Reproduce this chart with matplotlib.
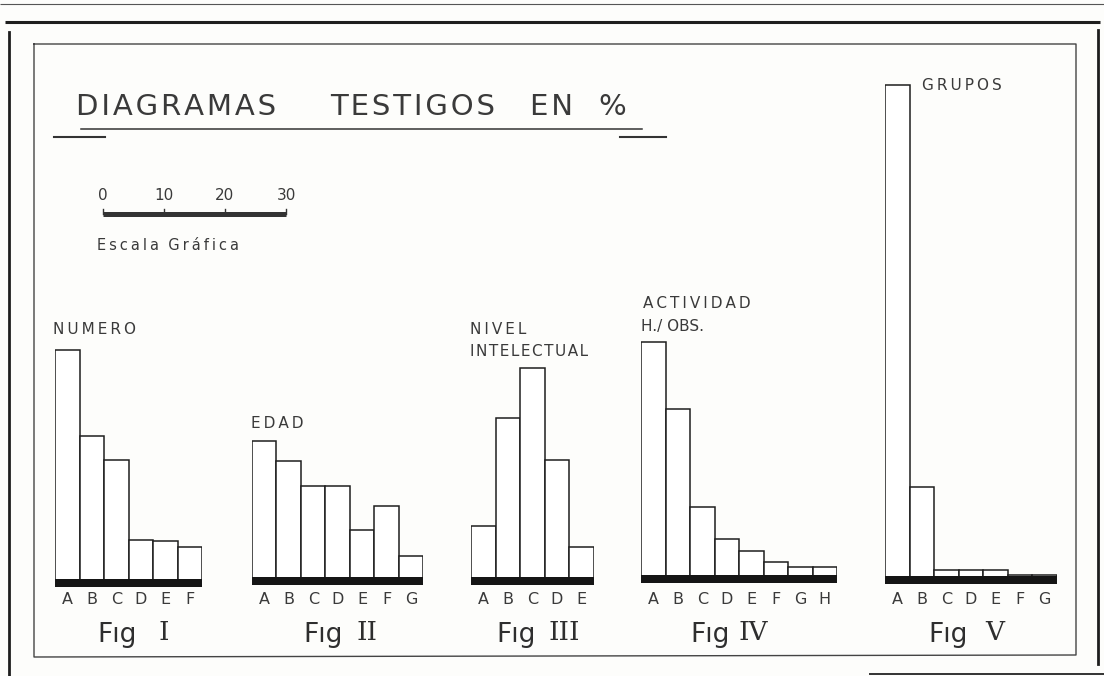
import matplotlib
matplotlib.use("Agg")
import matplotlib.pyplot as plt

# ---------------- data (values in %) ----------------
numero_letters = ["A", "B", "C", "D", "E", "F"]
numero_values = [37.7, 23.6, 19.7, 6.6, 6.4, 5.4]

edad_letters = ["A", "B", "C", "D", "E", "F", "G"]
edad_values = [22.5, 19.2, 15.1, 15.1, 7.9, 11.8, 3.6]

nivel_letters = ["A", "B", "C", "D", "E"]
nivel_values = [8.5, 26.3, 34.4, 19.3, 5.1]

actividad_letters = ["A", "B", "C", "D", "E", "F", "G", "H"]
actividad_values = [38.3, 27.3, 11.3, 6.1, 4.1, 2.3, 1.4, 1.4]

grupos_letters = ["A", "B", "C", "D", "E", "F", "G"]
grupos_values = [80.7, 14.7, 1.1, 1.1, 1.1, 0.4, 0.3]

scale_ticks = [0, 10, 20, 30]

# ---------------- layout ----------------
W, H = 1104, 676
PX = 6.1            # pixels per 1 %
BW = 24.5           # bar width in pixels
INK = "#1e1e1e"
TXT = "#3a3a3a"
HS = "\u200a"       # hair space for letter spacing

def spaced(s, n=1):
    return (HS * n).join(list(s))

plt.rcParams['font.family'] = ['DejaVu Sans']

fig = plt.figure(figsize=(W / 100, H / 100), dpi=100)
fig.patch.set_facecolor("#fdfdfb")

bg = fig.add_axes([0, 0, 1, 1])
bg.set_xlim(0, W)
bg.set_ylim(H, 0)
bg.axis("off")
bg.set_zorder(0)

# frames
bg.plot([0, W], [4, 4], lw=0.8, color="#555555", solid_capstyle="butt")
bg.plot([5, 1100], [22, 22], lw=2.2, color=INK, solid_capstyle="butt")
bg.plot([9, 9], [32, 676], lw=2.0, color=INK)
bg.plot([1098, 1098], [30, 664], lw=2.0, color=INK)
bg.plot([34, 1076, 1076, 34, 34], [44, 44, 655, 657, 44], lw=1.0, color="#444444")
bg.plot([870, 1104], [674, 674], lw=1.4, color="#333333")

# title
title_y = 107
for word, x in [("DIAGRAMAS", 76), ("TESTIGOS", 330), ("EN", 530), ("%", 598)]:
    bg.text(x, title_y, spaced(word, 1), fontsize=21, color=TXT, ha="left", va="center")
bg.plot([81, 642], [129, 129], lw=1.1, color="#333333")
bg.plot([54, 105], [137, 137], lw=1.5, color="#333333")
bg.plot([620, 666], [137, 137], lw=1.5, color="#333333")

# graphic scale
sx0, sy = 103, 214
bg.plot([sx0, sx0 + scale_ticks[-1] * PX], [sy, sy], lw=3.6, color="#333333", solid_capstyle="butt")
for t in scale_ticks:
    xx = sx0 + t * PX
    bg.plot([xx, xx], [sy - 5, sy], lw=1.0, color="#333333")
    bg.text(xx, 195, str(t), fontsize=11, color=TXT, ha="center", va="center")
bg.text(97, 245, spaced("Escala", 2) + "  " + spaced("Gráfica", 2), fontsize=10.5, color=TXT,
        ha="left", va="center")

# ---------------- bar diagrams ----------------
def diagram(x0, baseline, values, letters):
    n = len(values)
    bottom_px = baseline + 9
    top_px = 40
    ax = fig.add_axes([x0 / W, (H - bottom_px) / H, n * BW / W, (bottom_px - top_px) / H])
    ax.set_xlim(-0.5, n - 0.5)
    ax.set_ylim(-9 / PX, (baseline - top_px) / PX)
    ax.axis("off")
    ax.bar(range(n), values, width=1.0, color="white", edgecolor=INK, linewidth=1.1, zorder=2)
    ax.fill_between([-0.5, n - 0.5], -7 / PX, 0.1, color="#151515", zorder=3, linewidth=0)
    for i, lab in enumerate(letters):
        ax.text(i, -(599 - baseline) / PX, lab, ha="center", va="center", fontsize=11.5,
                color=TXT, clip_on=False)
    return ax

diagram(55, 580, numero_values, numero_letters)
diagram(252, 578, edad_values, edad_letters)
diagram(471, 578, nivel_values, nivel_letters)
diagram(641, 576, actividad_values, actividad_letters)
diagram(885, 577, grupos_values, grupos_letters)

# category titles
cat = dict(fontsize=11, color=TXT, ha="left", va="center")
bg.text(53, 330, spaced("NUMERO", 2), **cat)
bg.text(251, 424, spaced("EDAD", 2), **cat)
bg.text(470, 329, spaced("NIVEL", 2), **cat)
bg.text(470, 352, spaced("INTELECTUAL", 1), **cat)
bg.text(643, 304, spaced("ACTIVIDAD", 2), **cat)
bg.text(641, 326, "H./ OBS.", **cat)
bg.text(922, 85, spaced("GRUPOS", 2), **cat)

# figure captions
for fx, nx, num in [(97, 159, "I"), (303, 356, "II"), (496, 549, "III"), (690, 738, "IV"), (928, 985, "V")]:
    bg.text(fx, 635, "F\u0131g", fontsize=19, color="#2e2e2e", ha="left", va="center")
    bg.text(nx, 633, num, fontsize=19, color="#2e2e2e", ha="left", va="center", family="DejaVu Serif")

fig.savefig("out.png", dpi=100, facecolor=fig.get_facecolor())
